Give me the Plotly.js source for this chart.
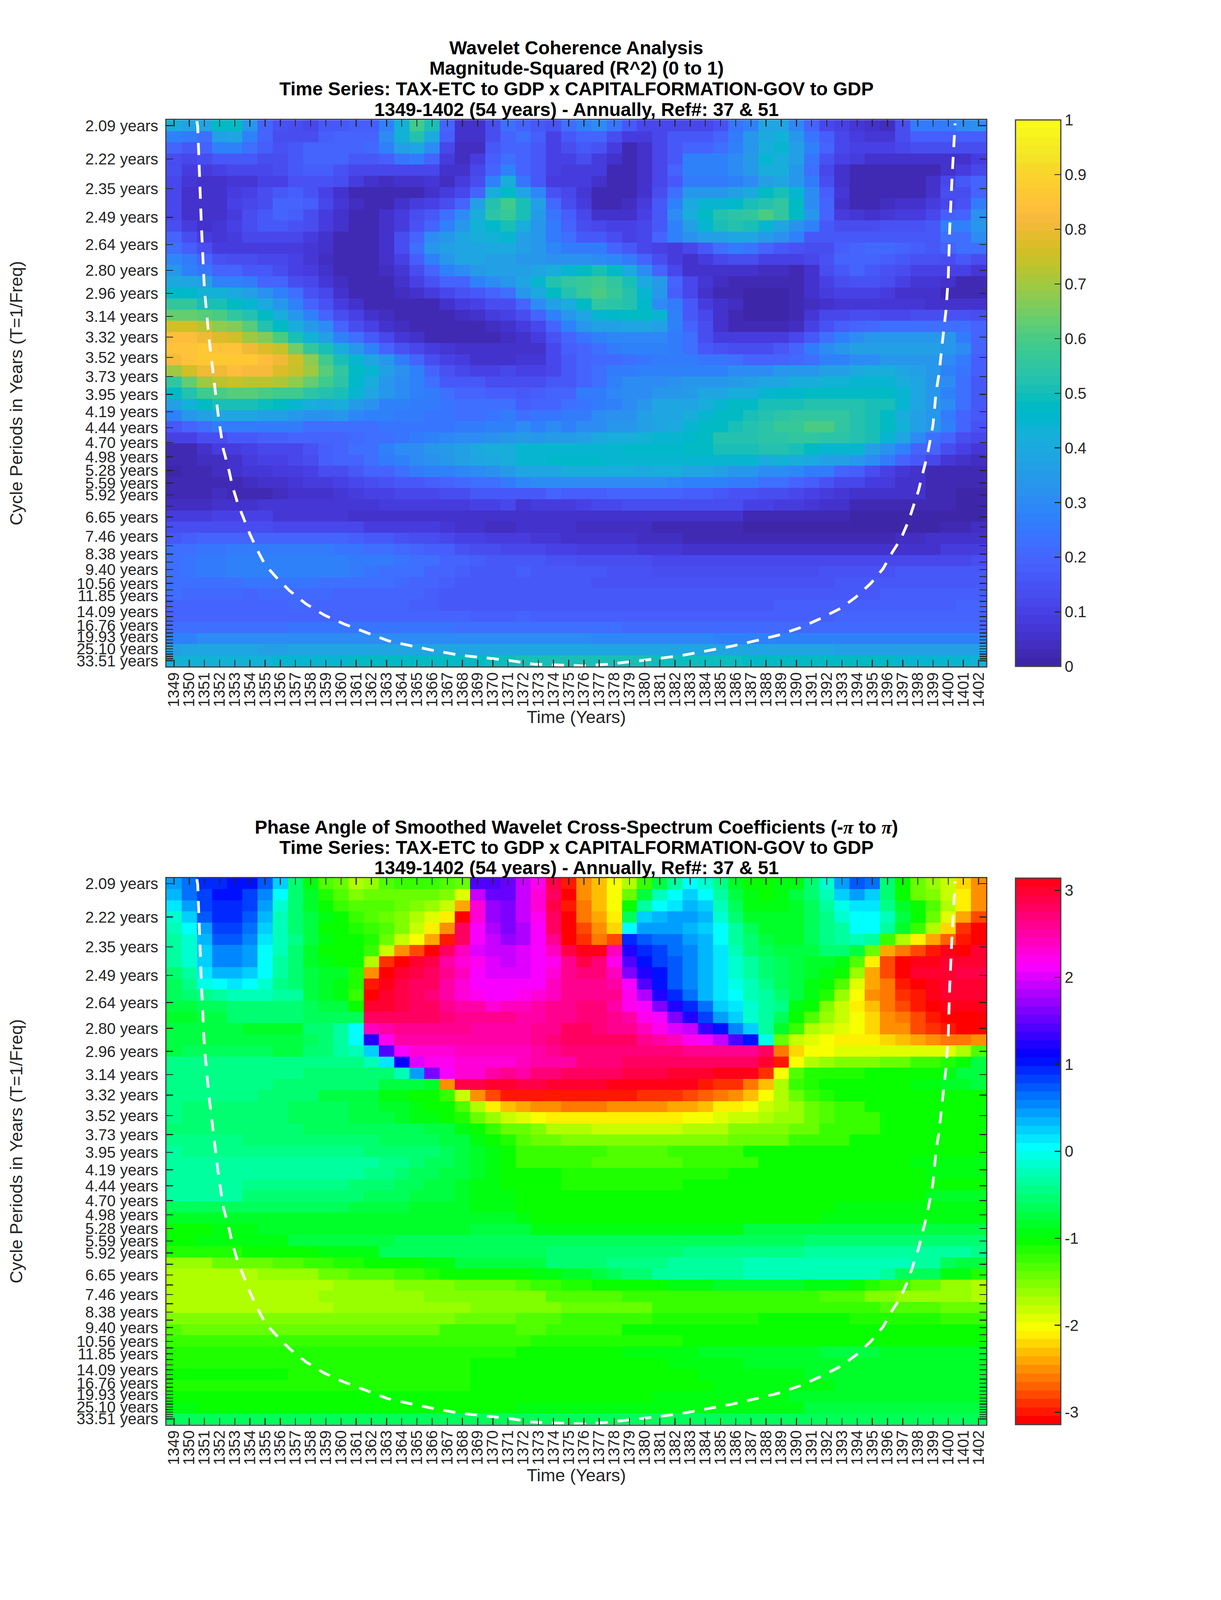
<!DOCTYPE html>
<html>
<head>
<meta charset="utf-8">
<script src="https://cdn.plot.ly/plotly-3.0.1.min.js"></script>
<style>html,body{margin:0;padding:0;background:#fff;overflow:hidden}</style>
</head>
<body>
<div id="chart"></div>
<script>
const years = [1349,1350,1351,1352,1353,1354,1355,1356,1357,1358,1359,1360,1361,1362,1363,1364,1365,1366,1367,1368,1369,1370,1371,1372,1373,1374,1375,1376,1377,1378,1379,1380,1381,1382,1383,1384,1385,1386,1387,1388,1389,1390,1391,1392,1393,1394,1395,1396,1397,1398,1399,1400,1401,1402];
const periods = [2.09,2.22,2.35,2.49,2.64,2.80,2.96,3.14,3.32,3.52,3.73,3.95,4.19,4.44,4.70,4.98,5.28,5.59,5.92,6.27,6.65,7.04,7.46,7.91,8.38,8.88,9.40,9.96,10.56,11.19,11.85,12.56,13.30,14.09,14.93,15.82,16.76,17.76,18.81,19.93,21.11,22.37,23.70,25.10,26.60,28.18,29.85,31.63,33.51];
const unlabeledPeriods = [6.27,7.04,7.91,8.88,9.96,11.19,12.56,13.30,14.93,15.82,17.76,18.81,21.11,22.37,23.70,26.60,28.18,29.85,31.63];

const coiYear = [1350.5,1350.56,1350.8,1351.0,1351.3,1351.5,1351.7,1351.95,1352.25,1352.6,1352.85,1353.2,1353.6,1354.0,1354.5,1355.0,1355.8,1356.6,1357.7,1358.9,1360.2,1361.7,1363.1,1364.6,1366.2,1367.85,1369.5,1371,1372.7,1374.4,1376,1377.6,1379.3,1380.9,1382.5,1384.1,1385.7,1387.3,1388.8,1390.2,1391.6,1392.9,1393.9,1394.9,1395.7,1396.3,1396.9,1397.4,1397.7,1398.05,1398.3,1398.6,1398.8,1399.0,1399.2,1399.4,1399.6,1399.85,1400.0,1400.1,1400.25,1400.4,1400.45];
const coiRow = [0.6,1.07,9.9,15.65,20.05,22.6,24.6,27.4,30.05,31.8,33.35,34.9,36.2,37.65,39.1,40.4,41.6,42.7,43.9,44.9,45.7,46.5,47.2,47.65,48.1,48.5,48.75,48.95,49.3,49.4,49.45,49.3,49.05,48.8,48.5,48.1,47.7,47.2,46.7,46.05,45.2,44.3,43.3,42.05,40.75,39.3,38,36.4,35.1,33.7,32.3,30.7,29.3,27.8,24.9,23.2,20.6,17.6,14.7,10.1,5.7,1.3,0.8];

const coherence = [
[.42,.38,.38,.47,.47,.33,.2,.15,.13,.12,.17,.17,.18,.18,.27,.43,.58,.5,.2,.05,.05,.14,.22, .2,.16,.15,.22,.27,.3,.24,.17,.11,.12,.12,.12,.12,.15,.24,.28,.38,.38,.29,.2,.12,.1,.07,.05,.04,.13,.25,.25,.26,.3,.32],
[.28,.25,.22,.37,.38,.27,.19,.14,.13,.14,.18,.2,.19,.19,.3,.43,.52,.4,.18,.05,.05,.14,.2, .22,.18,.1,.17,.2,.2,.13,.08,.08,.12,.17,.17,.17,.2,.26,.33,.4,.43,.33,.24,.18,.12,.09,.07,.07,.13,.18,.18,.18,.18,.18],
[.2,.17,.2,.27,.27,.22,.18,.15,.17,.19,.2,.2,.2,.21,.28,.36,.38,.3,.12,.04,.04,.17,.2, .19,.16,.1,.13,.17,.15,.09,.03,.06,.12,.17,.2,.2,.22,.27,.33,.42,.44,.37,.28,.19,.12,.1,.1,.1,.11,.13,.14,.14,.14,.13],
[.14,.11,.14,.17,.17,.16,.14,.14,.16,.2,.2,.19,.17,.16,.18,.24,.26,.2,.08,.04,.08,.18,.22, .19,.16,.1,.1,.13,.09,.05,.03,.05,.12,.17,.27,.27,.27,.3,.35,.45,.42,.36,.24,.15,.1,.08,.06,.05,.05,.05,.05,.05,.06,.08],
[.13,.09,.08,.1,.12,.12,.12,.13,.17,.18,.18,.15,.12,.12,.12,.12,.12,.12,.06,.05,.11,.2,.27, .19,.16,.1,.08,.09,.08,.03,.02,.06,.12,.2,.27,.27,.27,.3,.35,.42,.42,.33,.22,.12,.06,.03,.03,.03,.03,.03,.03,.05,.08,.12],
[.12,.07,.06,.06,.07,.07,.1,.1,.15,.15,.15,.13,.08,.05,.04,.05,.06,.07,.04,.08,.14,.27,.42, .24,.16,.09,.08,.08,.05,.02,.02,.06,.11,.17,.25,.26,.26,.28,.3,.36,.39,.34,.25,.14,.06,.02,.02,.02,.03,.03,.05,.12,.16,.2],
[.11,.06,.05,.06,.08,.1,.13,.16,.18,.15,.1,.05,.02,.02,.02,.03,.02,.06,.08,.12,.2,.42,.48, .38,.29,.15,.11,.07,.03,.02,.02,.06,.13,.23,.33,.33,.33,.36,.4,.48,.5,.44,.3,.18,.07,.02,.02,.02,.03,.03,.05,.13,.14,.2],
[.11,.05,.05,.06,.1,.11,.14,.2,.2,.18,.12,.07,.04,.02,.02,.05,.08,.1,.14,.2,.36,.52,.58, .5,.36,.21,.13,.09,.03,.03,.04,.08,.17,.27,.4,.45,.44,.46,.5,.52,.56,.47,.3,.2,.06,.03,.03,.04,.05,.06,.08,.11,.15,.26],
[.11,.05,.05,.06,.09,.13,.17,.2,.18,.14,.09,.05,.03,.02,.05,.08,.13,.16,.22,.3,.42,.54,.57, .5,.35,.24,.18,.11,.06,.06,.06,.1,.17,.3,.42,.48,.53,.54,.56,.6,.56,.48,.33,.2,.09,.07,.06,.07,.09,.09,.11,.18,.2,.32],
[.14,.09,.06,.07,.1,.14,.16,.17,.15,.13,.08,.05,.02,.02,.05,.09,.15,.2,.27,.33,.43,.46,.5, .42,.33,.25,.19,.13,.11,.1,.1,.12,.17,.27,.36,.44,.5,.52,.5,.45,.38,.32,.27,.17,.13,.14,.14,.15,.15,.15,.17,.27,.28,.34],
[.2,.13,.09,.07,.09,.11,.12,.12,.12,.09,.06,.03,.02,.02,.06,.14,.2,.3,.34,.38,.42,.43,.44, .37,.33,.26,.22,.17,.16,.13,.1,.12,.2,.27,.32,.36,.37,.38,.38,.35,.32,.27,.17,.17,.17,.17,.17,.17,.17,.17,.17,.22,.23,.3],
[.23,.18,.13,.09,.08,.09,.09,.09,.08,.07,.05,.02,.02,.02,.06,.13,.22,.33,.37,.38,.39,.4,.4, .36,.33,.29,.26,.26,.26,.2,.16,.12,.1,.09,.12,.17,.23,.25,.24,.2,.17,.15,.14,.14,.18,.2,.21,.21,.2,.18,.17,.19,.22,.22],
[.29,.25,.19,.15,.14,.13,.12,.11,.1,.07,.04,.02,.02,.02,.05,.1,.18,.28,.33,.38,.38,.37,.36, .34,.33,.32,.32,.32,.3,.29,.26,.2,.13,.08,.06,.09,.11,.13,.13,.1,.1,.1,.12,.15,.19,.2,.2,.18,.16,.15,.15,.14,.17,.14],
[.33,.28,.24,.2,.2,.17,.17,.14,.1,.08,.05,.02,.02,.02,.04,.07,.14,.2,.27,.3,.35,.36,.36, .36,.38,.42,.44,.48,.5,.48,.4,.3,.2,.12,.06,.05,.05,.05,.05,.04,.04,.03,.05,.13,.16,.19,.17,.15,.13,.1,.1,.1,.1,.07],
[.4,.38,.37,.28,.28,.26,.2,.2,.14,.11,.07,.04,.02,.02,.03,.06,.1,.15,.2,.2,.27,.3,.33, .38,.45,.52,.55,.57,.58,.55,.5,.4,.35,.2,.12,.07,.04,.02,.02,.02,.02,.03,.05,.1,.14,.15,.15,.13,.1,.07,.07,.05,.02,.02],
[.46,.46,.43,.43,.4,.37,.32,.27,.22,.15,.12,.06,.03,.02,.02,.04,.06,.09,.12,.15,.16,.2,.22, .33,.4,.47,.52,.57,.6,.57,.53,.45,.33,.18,.11,.06,.03,.02,.01,.01,.01,.02,.06,.08,.1,.1,.1,.08,.05,.05,.05,.03,.02,.02],
[.55,.55,.5,.5,.47,.44,.4,.33,.28,.2,.15,.08,.05,.03,.02,.02,.03,.03,.06,.08,.1,.13,.14, .2,.3,.36,.42,.47,.55,.54,.53,.46,.3,.26,.16,.09,.06,.04,.01,.01,.01,.03,.04,.06,.07,.07,.07,.07,.07,.07,.05,.05,.05,.05],
[.63,.63,.62,.6,.56,.52,.48,.42,.33,.28,.2,.13,.1,.06,.04,.02,.02,.02,.02,.04,.05,.08,.1, .14,.2,.28,.33,.38,.44,.46,.48,.48,.44,.28,.17,.12,.05,.02,.01,.01,.01,.03,.07,.11,.12,.13,.13,.12,.12,.13,.14,.15,.15,.13],
[.76,.76,.72,.68,.67,.62,.53,.48,.42,.35,.3,.2,.14,.1,.06,.04,.03,.02,.02,.02,.03,.04,.05, .08,.12,.2,.28,.33,.36,.37,.38,.38,.37,.27,.2,.13,.06,.03,.02,.02,.02,.04,.1,.15,.18,.2,.21,.23,.23,.23,.23,.23,.23,.2],
[.84,.84,.8,.78,.75,.7,.66,.6,.5,.43,.36,.28,.22,.17,.12,.07,.05,.03,.03,.03,.03,.03,.04, .05,.08,.15,.2,.24,.27,.29,.29,.29,.29,.26,.23,.14,.09,.08,.08,.08,.08,.11,.16,.22,.27,.3,.33,.33,.33,.33,.33,.33,.26,.2],
[.85,.85,.86,.85,.85,.81,.78,.74,.65,.56,.5,.42,.33,.28,.2,.15,.12,.09,.07,.05,.05,.05,.05, .06,.06,.11,.18,.2,.22,.25,.27,.27,.27,.26,.23,.17,.15,.14,.14,.14,.16,.2,.25,.3,.33,.36,.36,.36,.36,.36,.36,.33,.3,.2],
[.82,.85,.87,.87,.86,.86,.83,.8,.75,.68,.58,.5,.44,.38,.33,.25,.2,.14,.1,.08,.05,.05,.05, .07,.07,.12,.16,.2,.21,.21,.23,.24,.25,.25,.25,.24,.24,.22,.2,.2,.2,.21,.22,.28,.28,.31,.31,.33,.33,.33,.33,.3,.26,.18],
[.7,.76,.8,.81,.83,.82,.82,.78,.74,.7,.62,.55,.48,.44,.36,.32,.27,.2,.15,.12,.1,.1,.12, .1,.1,.12,.17,.2,.22,.25,.26,.27,.28,.28,.28,.28,.28,.3,.3,.3,.33,.33,.33,.37,.37,.4,.42,.42,.38,.36,.33,.28,.24,.18],
[.56,.63,.69,.73,.74,.73,.72,.71,.68,.64,.59,.54,.46,.42,.34,.3,.27,.22,.17,.16,.16,.14,.14, .14,.14,.17,.17,.2,.22,.28,.3,.3,.31,.32,.33,.34,.34,.35,.36,.38,.38,.41,.41,.43,.43,.44,.44,.44,.42,.38,.34,.3,.22,.17],
[.48,.53,.58,.6,.62,.62,.6,.59,.58,.54,.52,.5,.44,.39,.33,.3,.27,.26,.22,.2,.2,.18,.18, .17,.18,.19,.2,.25,.26,.29,.31,.31,.33,.33,.35,.38,.38,.41,.41,.44,.46,.46,.48,.48,.48,.48,.48,.48,.44,.38,.33,.27,.22,.16],
[.37,.43,.47,.5,.5,.5,.49,.47,.45,.41,.4,.41,.35,.32,.28,.28,.25,.25,.24,.23,.22,.22,.22, .18,.2,.2,.22,.24,.26,.28,.3,.33,.38,.38,.39,.42,.44,.48,.48,.5,.5,.5,.52,.53,.53,.52,.5,.5,.44,.38,.33,.3,.22,.16],
[.28,.33,.37,.38,.38,.38,.37,.36,.34,.32,.32,.33,.29,.28,.27,.26,.25,.24,.24,.23,.23,.24,.26, .23,.24,.24,.26,.26,.3,.32,.32,.36,.38,.39,.42,.44,.48,.48,.5,.52,.54,.56,.56,.56,.56,.53,.5,.47,.42,.36,.33,.26,.2,.16],
[.17,.2,.23,.26,.26,.26,.26,.26,.25,.23,.22,.22,.22,.23,.24,.24,.24,.24,.24,.25,.26,.27,.28, .3,.28,.3,.28,.3,.3,.33,.34,.36,.38,.4,.45,.47,.48,.5,.52,.54,.57,.57,.6,.6,.56,.53,.5,.47,.43,.37,.33,.27,.19,.15],
[.1,.1,.14,.14,.16,.17,.18,.18,.19,.2,.2,.2,.21,.22,.23,.24,.26,.27,.29,.3,.3,.32,.33, .35,.33,.35,.35,.37,.4,.42,.42,.43,.44,.45,.46,.47,.52,.52,.53,.54,.54,.55,.55,.54,.54,.52,.5,.44,.38,.3,.22,.19,.14,.11],
[.03,.03,.06,.08,.09,.1,.11,.12,.12,.15,.18,.2,.22,.23,.27,.3,.31,.33,.35,.37,.4,.41,.42, .44,.44,.44,.44,.44,.45,.45,.46,.46,.46,.46,.47,.48,.5,.5,.5,.52,.52,.5,.47,.45,.44,.44,.37,.32,.27,.2,.19,.14,.1,.07],
[.02,.03,.04,.04,.05,.09,.1,.1,.12,.14,.18,.19,.2,.23,.25,.28,.3,.32,.33,.36,.38,.4,.42, .44,.44,.46,.46,.46,.46,.45,.45,.45,.45,.45,.45,.44,.44,.44,.44,.42,.43,.42,.4,.37,.36,.33,.3,.25,.19,.16,.12,.07,.06,.04],
[.01,.02,.02,.04,.05,.07,.07,.08,.09,.1,.13,.14,.17,.2,.2,.23,.25,.28,.28,.29,.3,.32,.35, .38,.39,.39,.42,.42,.42,.42,.41,.4,.41,.41,.39,.38,.36,.34,.33,.31,.3,.29,.25,.25,.2,.18,.13,.1,.07,.05,.03,.03,.03,.03],
[.02,.02,.02,.03,.03,.04,.06,.06,.07,.08,.09,.1,.12,.14,.15,.17,.17,.18,.2,.21,.22,.23,.25, .29,.3,.3,.31,.31,.3,.3,.3,.3,.3,.29,.28,.28,.27,.26,.25,.23,.22,.2,.18,.15,.12,.12,.09,.08,.06,.05,.03,.03,.02,.02],
[.02,.02,.03,.04,.03,.03,.03,.04,.05,.05,.05,.07,.08,.1,.1,.11,.12,.12,.13,.14,.16,.17,.17, .17,.17,.19,.18,.18,.18,.2,.2,.19,.19,.19,.18,.18,.17,.15,.15,.13,.13,.11,.1,.09,.07,.06,.06,.05,.05,.05,.03,.02,.01,.01],
[.04,.04,.04,.05,.06,.06,.07,.07,.07,.07,.07,.07,.07,.07,.09,.09,.09,.09,.09,.09,.1,.1,.11, .07,.09,.09,.09,.1,.12,.12,.13,.13,.13,.13,.13,.13,.13,.13,.1,.1,.09,.09,.07,.05,.05,.03,.03,.02,.02,.02,.02,.02,.01,.01],
[.08,.08,.08,.1,.1,.1,.1,.07,.07,.07,.07,.07,.06,.06,.06,.06,.06,.06,.05,.05,.05,.05,.05, .05,.05,.05,.05,.05,.05,.05,.05,.06,.06,.06,.06,.05,.05,.05,.03,.03,.02,.02,.02,.02,.02,.01,.01,.01,.01,.01,.01,.01,.01,.01],
[.13,.14,.14,.14,.14,.14,.13,.12,.12,.12,.12,.12,.11,.09,.09,.09,.08,.08,.07,.06,.06,.04,.04, .05,.06,.06,.06,.04,.04,.04,.04,.04,.03,.03,.03,.02,.02,.02,.01,.01,.01,.01,.01,.01,.01,.01,.01,.01,.01,.01,.01,.03,.03,.04],
[.17,.18,.2,.2,.2,.2,.2,.2,.19,.19,.19,.19,.18,.17,.16,.15,.14,.14,.12,.1,.1,.08,.08, .09,.07,.07,.06,.06,.06,.05,.05,.04,.04,.04,.03,.03,.03,.03,.03,.03,.03,.03,.03,.03,.03,.03,.03,.03,.04,.04,.05,.05,.06,.06],
[.23,.23,.24,.24,.25,.25,.25,.25,.25,.25,.25,.24,.24,.23,.23,.21,.2,.18,.18,.15,.14,.13,.12, .12,.11,.1,.1,.09,.09,.08,.08,.07,.07,.07,.06,.06,.06,.06,.06,.06,.06,.06,.06,.06,.06,.06,.06,.06,.06,.06,.06,.08,.08,.09],
[.23,.24,.25,.26,.27,.28,.28,.28,.28,.28,.28,.27,.26,.26,.26,.24,.23,.22,.2,.19,.18,.17,.16, .17,.16,.15,.15,.14,.14,.13,.13,.13,.12,.12,.12,.11,.11,.11,.11,.11,.11,.11,.11,.11,.11,.11,.11,.11,.11,.12,.12,.12,.12,.13],
[.23,.24,.25,.26,.27,.27,.27,.27,.27,.27,.27,.27,.26,.24,.23,.22,.22,.2,.19,.18,.17,.17,.16, .18,.17,.17,.16,.16,.16,.15,.15,.15,.14,.14,.14,.14,.14,.14,.14,.14,.14,.14,.14,.15,.15,.15,.15,.15,.16,.16,.16,.16,.17,.17],
[.23,.23,.22,.22,.23,.24,.24,.24,.24,.24,.23,.23,.23,.23,.22,.21,.2,.19,.18,.17,.17,.16,.16, .17,.17,.16,.16,.16,.15,.15,.15,.15,.15,.15,.15,.15,.15,.15,.15,.15,.15,.15,.15,.15,.16,.17,.17,.17,.17,.17,.17,.17,.17,.17],
[.22,.21,.21,.21,.21,.2,.21,.21,.21,.21,.21,.2,.2,.2,.2,.19,.19,.18,.17,.16,.16,.16,.16, .17,.16,.16,.16,.16,.16,.16,.16,.16,.16,.16,.16,.16,.16,.16,.16,.16,.16,.16,.17,.17,.17,.17,.17,.18,.18,.18,.18,.18,.18,.18],
[.2,.2,.19,.19,.19,.2,.2,.2,.21,.2,.19,.19,.19,.19,.19,.19,.18,.18,.17,.17,.16,.16,.16, .16,.16,.16,.17,.17,.17,.17,.17,.17,.17,.17,.17,.17,.17,.17,.17,.17,.18,.18,.18,.18,.18,.18,.18,.18,.18,.18,.18,.18,.19,.19],
[.19,.19,.2,.2,.2,.2,.2,.2,.2,.2,.2,.2,.2,.2,.2,.2,.19,.19,.19,.19,.18,.18,.18, .19,.18,.18,.18,.18,.18,.18,.18,.18,.18,.18,.18,.18,.18,.18,.18,.18,.18,.18,.18,.18,.19,.19,.19,.19,.19,.19,.19,.19,.19,.19],
[.22,.22,.23,.23,.23,.23,.23,.23,.24,.24,.24,.24,.24,.24,.24,.24,.24,.24,.24,.23,.23,.23,.23, .22,.22,.22,.22,.22,.22,.22,.21,.21,.21,.21,.21,.21,.21,.21,.21,.21,.21,.21,.21,.21,.21,.21,.21,.21,.21,.21,.21,.21,.21,.21],
[.28,.28,.3,.3,.3,.3,.3,.3,.3,.3,.3,.31,.31,.31,.31,.31,.31,.31,.31,.3,.3,.31,.31, .3,.3,.3,.3,.3,.29,.29,.29,.29,.29,.29,.29,.29,.28,.28,.28,.28,.28,.28,.28,.28,.28,.28,.28,.28,.27,.27,.27,.27,.27,.27],
[.37,.38,.38,.38,.38,.38,.37,.37,.38,.38,.38,.38,.38,.39,.39,.39,.39,.39,.39,.39,.39,.39,.39, .39,.39,.39,.39,.39,.39,.38,.38,.38,.38,.38,.38,.38,.38,.38,.38,.38,.38,.38,.38,.38,.37,.37,.37,.37,.37,.37,.37,.37,.37,.37],
[.43,.43,.43,.43,.43,.43,.43,.45,.45,.45,.45,.45,.47,.47,.47,.47,.47,.47,.47,.48,.48,.49,.49, .5,.5,.5,.5,.5,.5,.5,.5,.5,.49,.49,.49,.49,.49,.49,.48,.48,.48,.48,.48,.48,.48,.47,.47,.47,.45,.45,.45,.44,.44,.43]
];

const phase = [
[.42,.65,.91,.95,1.05,1.03,.7,.25,-.52,-.95,-1.31,-1.45,-1.75,-1.6,-1.35,-1.25,-1.2,-1.2,-1.3,-1.4,1.43,1.43,1.55, 1.95,2.2,2.9,-3.0,-2.55,-2.3,-2.0,-1.75,-1.2,-.7,-.3,0,-.1,-.45,-.85,-1.0,-1.05,-.95,-.9,-.55,-.1,.42,.75,.65,-.55,-1.0,-1.4,-1.6,-1.85,-2.2,-2.5],
[.3,.6,.85,1.0,1.0,.85,.5,0,-.5,-.85,-1.1,-1.35,-1.5,-1.45,-1.4,-1.4,-1.4,-1.45,-1.55,-1.9,1.9,1.57,1.5, 1.9,2.3,2.8,-3.05,-2.55,-2.3,-2.0,-1.4,-.75,-.25,0,.2,.05,-.35,-.7,-.95,-1.0,-.9,-.75,-.55,-.25,.2,.45,.25,-.55,-1.0,-1.4,-1.5,-1.85,-2.1,-2.5],
[.1,.45,.85,.95,.95,.8,.4,-.1,-.5,-.85,-1.05,-1.2,-1.3,-1.3,-1.35,-1.4,-1.5,-1.6,-1.8,-2.45,2.3,1.7,1.6, 1.9,2.3,2.85,-3.0,-2.6,-2.3,-2.0,-1.05,-.35,0,.15,.3,.2,-.2,-.6,-.9,-.95,-.95,-.8,-.6,-.35,-.05,.15,.15,-.45,-.8,-1.05,-1.35,-1.75,-2.15,-2.5],
[-.1,.2,.7,.9,.9,.75,.35,-.25,-.5,-.75,-.9,-1.05,-1.2,-1.3,-1.4,-1.5,-1.7,-1.9,-2.15,-3.05,2.3,1.75,1.6, 1.9,2.25,2.75,-3.05,-2.6,-2.45,-2.1,-.65,.2,.3,.4,.4,.3,-.1,-.5,-.8,-.85,-.85,-.8,-.6,-.45,-.15,0,0,-.25,-.7,-1.05,-1.4,-1.9,-2.4,-2.75],
[-.25,0,.45,.8,.8,.6,.2,-.25,-.55,-.75,-1.0,-1.0,-1.1,-1.25,-1.35,-1.55,-1.8,-2.1,-2.55,2.75,2.1,1.85,1.6, 1.85,2.1,2.75,-3.14,-2.8,-2.5,-2.25,0,.45,.45,.45,.35,.2,0,-.3,-.65,-.8,-.85,-.8,-.6,-.4,-.35,0,0,-.35,-.85,-1.25,-1.75,-2.25,-2.85,-3.05],
[-.3,-.1,.35,.7,.7,.55,.1,-.25,-.45,-.75,-.9,-1.0,-1.05,-1.1,-1.45,-1.8,-2.05,-2.45,-3.0,2.75,2.1,1.9,1.7, 1.85,2.1,2.6,-3.05,-2.85,-2.65,-2.8,.95,.75,.65,.6,.45,.3,0,-.3,-.55,-.7,-.8,-.8,-.6,-.45,-.35,-.2,-.3,-1.2,-1.7,-2.1,-2.45,-2.7,-3.0,-3.14],
[-.3,-.15,.25,.55,.55,.45,.05,-.25,-.5,-.8,-1.0,-1.0,-1.05,-1.25,-1.85,-2.5,-2.8,-3.14,2.8,2.4,2.0,1.9,1.9, 2.0,2.15,2.45,2.9,3.05,3.14,2.4,1.25,.95,.8,.6,.5,.35,.1,-.25,-.5,-.65,-.75,-.75,-.7,-.55,-.5,-.75,-1.4,-2.45,-2.6,-2.8,-2.95,3.14,-3.14,3.0],
[-.35,-.15,.2,.5,.5,.4,0,-.3,-.55,-.8,-.95,-1.0,-1.05,-1.7,-2.85,-3.1,3.0,2.85,2.5,2.35,2.2,2.0,1.95, 2.0,2.1,2.25,2.6,2.85,2.7,2.2,1.45,1.05,.85,.7,.5,.3,.1,-.15,-.35,-.5,-.6,-.7,-.8,-.85,-.9,-1.3,-2.15,-2.8,-3.05,3.14,3.05,3.0,3.0,2.95],
[-.55,-.3,.1,.35,.35,.2,0,-.35,-.55,-.7,-.8,-.85,-1.1,-2.55,-3.1,3.0,2.85,2.8,2.65,2.45,2.1,2.05,2.05, 2.05,2.1,2.35,2.6,2.7,2.7,2.4,1.65,1.25,1.05,.75,.5,.3,.1,-.1,-.3,-.5,-.6,-.7,-.8,-.9,-1.05,-1.65,-2.4,-2.8,-3.05,3.0,3.0,2.95,2.9,2.9],
[-.6,-.45,-.05,0,.1,0,-.1,-.4,-.55,-.75,-.85,-.9,-1.15,-2.95,3.05,2.9,2.8,2.75,2.55,2.3,2.1,2.1,2.1, 2.1,2.15,2.4,2.6,2.65,2.65,2.5,2.15,1.4,1.05,.75,.5,.3,.1,-.05,-.25,-.4,-.6,-.75,-.9,-1.05,-1.35,-1.95,-2.45,-2.6,-2.95,-3.14,3.05,2.95,2.95,3.0],
[-.65,-.55,-.45,-.3,-.25,-.25,-.25,-.3,-.35,-.7,-.8,-.9,-1.2,-3.14,3.0,2.85,2.75,2.7,2.5,2.3,2.2,2.15,2.15, 2.25,2.3,2.4,2.6,2.65,2.65,2.6,2.2,1.8,1.25,.9,.65,.35,.15,0,-.2,-.35,-.5,-.7,-.9,-1.15,-1.6,-2.0,-2.5,-2.6,-2.85,-3.0,3.14,3.0,3.0,3.0],
[-.75,-.7,-.65,-.6,-.5,-.5,-.5,-.5,-.55,-.65,-.7,-.75,-1.05,3.0,2.95,2.9,2.8,2.75,2.65,2.55,2.5,2.35,2.45, 2.45,2.5,2.6,2.65,2.7,2.7,2.55,2.25,2.1,1.65,1.2,.9,.65,.25,.1,-.15,-.3,-.45,-.9,-1.0,-1.5,-1.85,-2.15,-2.3,-2.6,-2.75,-3.0,-3.05,3.14,3.05,3.05],
[-.8,-.8,-.75,-.75,-.55,-.55,-.55,-.55,-.55,-.6,-.6,-.6,-.6,2.8,2.8,2.8,2.75,2.75,2.7,2.6,2.6,2.6,2.6, 2.5,2.55,2.65,2.65,2.7,2.7,2.65,2.5,2.25,2.1,1.6,1.2,.85,.45,.25,-.1,-.3,-.6,-1.05,-1.35,-1.65,-1.85,-2.05,-2.25,-2.5,-2.65,-2.75,-2.95,-3.05,-3.14,-3.14],
[-.75,-.75,-.75,-.7,-.75,-.8,-.8,-.8,-.8,-.55,-.55,-.3,.05,2.4,2.55,2.65,2.65,2.65,2.65,2.6,2.55,2.55,2.55, 2.55,2.6,2.65,2.75,2.75,2.7,2.65,2.6,2.4,2.2,2.05,1.9,1.35,1.0,.5,.2,-.3,-.85,-1.2,-1.7,-1.85,-1.95,-2.05,-2.2,-2.5,-2.55,-2.75,-2.85,-3.0,-3.05,-3.05],
[-.75,-.7,-.7,-.7,-.7,-.7,-.7,-.7,-.7,-.6,-.5,-.3,0,1.2,2.25,2.5,2.5,2.5,2.5,2.5,2.5,2.5,2.5, 2.55,2.6,2.7,2.75,2.75,2.75,2.75,2.75,2.6,2.5,2.45,2.2,2.15,1.95,1.45,1.05,-.05,-1.4,-1.8,-1.95,-2.05,-2.1,-2.1,-2.1,-2.2,-2.3,-2.45,-2.5,-2.6,-2.6,-2.55],
[-.75,-.65,-.65,-.65,-.65,-.65,-.65,-.7,-.7,-.5,-.5,-.35,-.2,.2,1.4,2.15,2.3,2.35,2.35,2.4,2.4,2.4,2.4, 2.45,2.55,2.6,2.7,2.7,2.7,2.7,2.7,2.7,2.7,2.7,2.65,2.65,2.6,2.6,2.6,2.8,-2.65,-2.2,-2.05,-2.0,-1.9,-1.9,-1.9,-1.9,-1.9,-1.9,-1.9,-1.95,-1.7,-1.35],
[-.42,-.42,-.42,-.42,-.42,-.42,-.42,-.42,-.42,-.42,-.42,-.42,-.42,-.2,.1,1.15,2.0,2.2,2.25,2.3,2.3,2.3,2.3, 2.4,2.5,2.5,2.5,2.7,2.7,2.7,2.8,2.8,2.8,2.8,2.8,2.8,2.8,2.8,2.8,3.0,-2.95,-2.0,-1.7,-1.6,-1.48,-1.48,-1.48,-1.42,-1.42,-1.27,-1.27,-1.1,-1.0,-.7],
[-.42,-.42,-.42,-.42,-.42,-.42,-.42,-.42,-.42,-.55,-.55,-.55,-.55,-.55,-.55,-.2,.4,1.6,2.1,2.3,2.35,2.5,2.6, 2.5,2.7,2.7,2.8,2.8,2.8,2.8,2.9,2.9,2.9,3.0,3.0,3.0,3.05,3.05,3.14,-2.9,-2.0,-1.35,-1.15,-1.15,-1.15,-1.15,-1.05,-1.05,-1.05,-1.05,-1.05,-.9,-.7,-.7],
[-.45,-.45,-.45,-.45,-.45,-.45,-.45,-.55,-.55,-.55,-.55,-.55,-.55,-.55,-.75,-.75,-.75,-.85,-2.55,2.85,2.9,2.95,3.0, 2.9,2.9,3.0,3.0,3.0,3.0,3.05,3.05,3.05,3.14,3.14,3.14,-3.0,-2.9,-2.85,-2.65,-2.3,-1.7,-1.2,-1.1,-1.05,-1.05,-1.05,-1.05,-1.05,-1.05,-.95,-.95,-.85,-.85,-.7],
[-.45,-.45,-.45,-.45,-.45,-.45,-.55,-.55,-.55,-.55,-.75,-.75,-.75,-.75,-.9,-.95,-1.0,-1.05,-1.25,-1.85,-2.5,-2.8,-3.0, -3.0,-3.0,-3.0,-3.0,-3.0,-3.0,-3.0,-3.0,-2.9,-2.9,-2.9,-2.8,-2.7,-2.6,-2.5,-2.3,-2.0,-1.7,-1.45,-1.2,-1.1,-1.05,-1.05,-1.05,-1.05,-1.05,-1.05,-1.05,-1.05,-1.05,-1.05],
[-.45,-.55,-.55,-.55,-.55,-.55,-.55,-.55,-.65,-.65,-.65,-.65,-.7,-.7,-.85,-.85,-.95,-1.0,-1.05,-1.35,-1.7,-2.09,-2.35, -2.45,-2.5,-2.5,-2.6,-2.6,-2.6,-2.5,-2.5,-2.5,-2.5,-2.4,-2.4,-2.3,-2.15,-2.09,-2.0,-1.8,-1.7,-1.58,-1.42,-1.3,-1.2,-1.2,-1.05,-1.05,-1.05,-1.05,-1.05,-1.05,-1.05,-1.05],
[-.45,-.55,-.55,-.55,-.55,-.55,-.55,-.55,-.65,-.65,-.65,-.65,-.75,-.75,-.75,-.85,-.9,-.95,-1.0,-1.15,-1.45,-1.6,-1.78, -1.9,-2.0,-2.09,-2.09,-2.09,-2.09,-2.09,-2.09,-2.09,-2.09,-2.09,-2.0,-2.0,-1.9,-1.8,-1.8,-1.72,-1.58,-1.58,-1.45,-1.35,-1.2,-1.2,-1.2,-1.05,-1.05,-1.05,-1.05,-1.05,-1.05,-1.05],
[-.5,-.5,-.5,-.5,-.5,-.5,-.5,-.5,-.5,-.6,-.6,-.6,-.6,-.6,-.6,-.6,-.6,-.7,-.7,-.95,-1.05,-1.2,-1.4, -1.45,-1.5,-1.7,-1.7,-1.7,-1.78,-1.78,-1.78,-1.78,-1.78,-1.78,-1.7,-1.7,-1.7,-1.55,-1.55,-1.55,-1.55,-1.38,-1.38,-1.2,-1.2,-1.2,-1.2,-1.07,-1.07,-1.07,-1.07,-1.07,-1.07,-1.07],
[-.45,-.45,-.45,-.45,-.45,-.5,-.5,-.5,-.5,-.5,-.5,-.5,-.5,-.5,-.65,-.65,-.65,-.65,-.75,-.75,-.9,-1.0,-1.15, -1.3,-1.42,-1.42,-1.5,-1.5,-1.5,-1.5,-1.5,-1.5,-1.5,-1.5,-1.5,-1.5,-1.5,-1.4,-1.4,-1.4,-1.4,-1.27,-1.27,-1.27,-1.27,-1.07,-1.07,-1.07,-1.07,-1.07,-1.07,-1.07,-1.07,-1.07],
[-.35,-.42,-.42,-.42,-.42,-.42,-.42,-.42,-.42,-.42,-.42,-.42,-.42,-.55,-.55,-.55,-.55,-.55,-.65,-.75,-.85,-.95,-1.05, -1.25,-1.25,-1.25,-1.25,-1.25,-1.25,-1.35,-1.35,-1.35,-1.35,-1.25,-1.25,-1.25,-1.25,-1.25,-1.07,-1.07,-1.07,-1.07,-1.07,-1.07,-1.07,-1.07,-1.07,-1.07,-1.07,-1.07,-1.07,-1.07,-1.07,-1.07],
[-.3,-.3,-.3,-.3,-.3,-.35,-.35,-.35,-.35,-.35,-.35,-.35,-.35,-.35,-.45,-.45,-.5,-.6,-.65,-.75,-.85,-.95,-1.0, -1.2,-1.2,-1.22,-1.22,-1.22,-1.3,-1.3,-1.3,-1.3,-1.3,-1.3,-1.2,-1.2,-1.2,-1.2,-1.2,-1.05,-1.05,-1.05,-1.05,-1.05,-1.05,-1.05,-1.05,-1.05,-1.05,-.9,-.9,-.9,-.9,-.9],
[-.32,-.32,-.32,-.32,-.32,-.32,-.32,-.38,-.38,-.38,-.38,-.38,-.38,-.45,-.48,-.55,-.6,-.65,-.7,-.75,-.85,-.95,-1.0, -1.07,-1.07,-1.07,-1.15,-1.15,-1.15,-1.15,-1.15,-1.15,-1.15,-1.15,-1.15,-1.15,-1.15,-1.05,-1.05,-1.05,-1.05,-1.05,-1.05,-1.05,-1.05,-1.05,-1.05,-1.05,-1.05,-1.05,-.95,-.95,-.95,-.95],
[-.32,-.32,-.32,-.32,-.32,-.4,-.4,-.4,-.4,-.4,-.4,-.45,-.5,-.52,-.58,-.6,-.65,-.7,-.75,-.8,-.9,-.95,-1.0, -1.05,-1.05,-1.05,-1.1,-1.1,-1.1,-1.1,-1.1,-1.1,-1.1,-1.1,-1.03,-1.03,-1.03,-1.03,-1.03,-1.03,-1.03,-1.03,-1.03,-1.03,-1.03,-1.03,-1.03,-1.03,-1.03,-1.03,-1.03,-1.03,-1.03,-1.03],
[-.3,-.38,-.38,-.38,-.38,-.5,-.5,-.5,-.5,-.55,-.55,-.55,-.55,-.6,-.65,-.68,-.75,-.75,-.75,-.8,-.9,-.95,-.95, -1.03,-1.03,-1.03,-1.03,-1.03,-1.03,-1.03,-1.03,-1.03,-1.03,-1.03,-1.03,-1.03,-1.03,-1.03,-1.03,-1.03,-1.03,-1.03,-1.03,-1.03,-1.0,-1.0,-1.0,-1.0,-1.0,-1.0,-.85,-.85,-.85,-.85],
[-.6,-.6,-.6,-.6,-.6,-.6,-.6,-.65,-.65,-.65,-.65,-.65,-.75,-.75,-.75,-.75,-.8,-.8,-.8,-.8,-.95,-.95,-.95, -1.0,-1.0,-1.0,-1.0,-1.0,-1.0,-1.0,-1.0,-1.0,-1.0,-1.0,-1.0,-1.0,-1.0,-1.0,-1.0,-1.0,-1.0,-1.0,-1.0,-1.0,-.95,-.95,-.95,-.95,-.95,-.95,-.95,-.95,-.95,-.95],
[-.85,-.85,-.85,-.8,-.8,-.8,-.8,-.8,-.8,-.8,-.8,-.8,-.8,-.8,-.8,-.8,-.8,-.8,-.8,-.8,-.8,-.85,-.85, -.9,-1.0,-1.0,-1.0,-1.0,-1.0,-1.0,-1.0,-1.0,-1.0,-1.0,-1.0,-1.0,-1.0,-1.0,-1.0,-1.0,-1.0,-1.0,-1.0,-.9,-.9,-.9,-.9,-.9,-.9,-.9,-.9,-.9,-.9,-.9],
[-1.05,-1.05,-1.05,-.9,-.9,-.9,-.8,-.8,-.8,-.8,-.8,-.8,-.8,-.8,-.8,-.8,-.8,-.8,-.8,-.8,-.75,-.75,-.72, -.75,-.92,-.92,-.92,-.92,-.92,-.92,-.92,-.92,-.92,-.92,-.92,-.92,-.92,-.92,-.78,-.78,-.78,-.78,-.78,-.78,-.78,-.78,-.78,-.78,-.78,-.78,-.78,-.78,-.78,-.78],
[-1.0,-1.0,-.95,-.95,-.95,-.9,-.9,-.9,-.75,-.75,-.75,-.75,-.75,-.75,-.75,-.65,-.65,-.65,-.65,-.65,-.65,-.65,-.65, -.65,-.65,-.65,-.65,-.65,-.65,-.65,-.65,-.65,-.65,-.65,-.65,-.65,-.65,-.65,-.65,-.65,-.65,-.65,-.52,-.52,-.52,-.52,-.52,-.52,-.52,-.52,-.52,-.52,-.58,-.58],
[-1.15,-1.15,-1.15,-1.15,-1.15,-1.05,-1.05,-1.05,-1.05,-1.05,-.9,-.9,-.9,-.9,-.65,-.65,-.65,-.65,-.65,-.65,-.65,-.65,-.65, -.65,-.65,-.5,-.5,-.5,-.5,-.5,-.5,-.5,-.5,-.5,-.42,-.42,-.42,-.42,-.42,-.42,-.42,-.42,-.33,-.33,-.33,-.33,-.33,-.33,-.33,-.33,-.33,-.33,-.33,-.42],
[-1.6,-1.6,-1.6,-1.4,-1.4,-1.4,-1.4,-1.3,-1.3,-1.2,-1.2,-1.1,-1.1,-1.0,-1.0,-1.0,-1.0,-.9,-.9,-.7,-.7,-.7,-.7, -.7,-.7,-.55,-.55,-.55,-.55,-.42,-.42,-.42,-.42,-.33,-.33,-.33,-.33,-.33,-.26,-.26,-.26,-.26,-.26,-.26,-.26,-.26,-.26,-.26,-.26,-.38,-.38,-.6,-.7,-.7],
[-1.72,-1.72,-1.72,-1.72,-1.72,-1.72,-1.6,-1.6,-1.6,-1.6,-1.45,-1.45,-1.35,-1.35,-1.35,-1.2,-1.2,-1.1,-1.05,-1.05,-1.0,-1.0,-1.0, -1.0,-.9,-.9,-.8,-.8,-.7,-.66,-.52,-.52,-.38,-.38,-.38,-.3,-.3,-.3,-.26,-.26,-.26,-.26,-.26,-.26,-.26,-.26,-.26,-.38,-.6,-.6,-.6,-.9,-.9,-1.1],
[-1.72,-1.72,-1.72,-1.72,-1.72,-1.72,-1.72,-1.72,-1.72,-1.72,-1.72,-1.6,-1.6,-1.6,-1.6,-1.52,-1.52,-1.52,-1.52,-1.45,-1.45,-1.4,-1.4, -1.35,-1.2,-1.2,-1.1,-1.1,-1.03,-1.03,-1.03,-1.03,-1.03,-.92,-.92,-.92,-.8,-.8,-.8,-.8,-.8,-.8,-.92,-.92,-.92,-1.03,-1.1,-1.25,-1.25,-1.42,-1.42,-1.65,-1.65,-1.7],
[-1.72,-1.72,-1.72,-1.72,-1.72,-1.72,-1.72,-1.72,-1.72,-1.72,-1.6,-1.6,-1.6,-1.6,-1.6,-1.6,-1.6,-1.55,-1.55,-1.55,-1.55,-1.55,-1.5, -1.5,-1.5,-1.35,-1.35,-1.35,-1.35,-1.35,-1.27,-1.27,-1.27,-1.27,-1.27,-1.27,-1.27,-1.27,-1.27,-1.27,-1.27,-1.27,-1.27,-1.37,-1.37,-1.37,-1.5,-1.5,-1.6,-1.6,-1.6,-1.6,-1.6,-1.75],
[-1.68,-1.68,-1.68,-1.68,-1.68,-1.68,-1.68,-1.68,-1.68,-1.68,-1.68,-1.58,-1.58,-1.58,-1.58,-1.58,-1.58,-1.58,-1.58,-1.58,-1.5,-1.5,-1.5, -1.5,-1.5,-1.5,-1.42,-1.42,-1.42,-1.42,-1.42,-1.42,-1.27,-1.27,-1.27,-1.27,-1.27,-1.27,-1.27,-1.27,-1.27,-1.27,-1.27,-1.27,-1.27,-1.27,-1.27,-1.35,-1.35,-1.35,-1.35,-1.45,-1.45,-1.45],
[-1.48,-1.48,-1.48,-1.48,-1.48,-1.48,-1.48,-1.48,-1.48,-1.48,-1.48,-1.48,-1.48,-1.48,-1.48,-1.48,-1.48,-1.48,-1.48,-1.42,-1.42,-1.42,-1.42, -1.35,-1.35,-1.35,-1.27,-1.27,-1.27,-1.27,-1.27,-1.27,-1.12,-1.12,-1.12,-1.12,-1.12,-1.12,-1.12,-1.07,-1.07,-1.07,-1.07,-1.07,-1.07,-1.12,-1.12,-1.12,-1.12,-1.12,-1.12,-1.27,-1.27,-1.27],
[-1.35,-1.42,-1.42,-1.42,-1.42,-1.42,-1.42,-1.42,-1.42,-1.42,-1.42,-1.42,-1.42,-1.42,-1.42,-1.42,-1.42,-1.42,-1.27,-1.27,-1.27,-1.27,-1.27, -1.35,-1.35,-1.2,-1.2,-1.2,-1.2,-1.2,-1.07,-1.07,-1.07,-1.07,-1.07,-1.07,-1.07,-1.07,-1.07,-1.07,-1.07,-1.07,-1.07,-1.07,-1.07,-1.07,-1.07,-1.07,-1.07,-1.07,-1.07,-1.07,-1.07,-1.07],
[-1.2,-1.2,-1.2,-1.2,-1.2,-1.2,-1.27,-1.27,-1.27,-1.27,-1.27,-1.27,-1.27,-1.27,-1.27,-1.27,-1.2,-1.2,-1.2,-1.2,-1.2,-1.2,-1.2, -1.2,-1.12,-1.12,-1.12,-1.12,-1.12,-1.12,-1.12,-1.12,-1.12,-1.12,-1.0,-1.0,-1.0,-1.0,-1.0,-1.0,-1.0,-1.0,-1.0,-1.0,-1.0,-1.0,-1.0,-1.0,-1.0,-1.0,-1.0,-1.0,-1.0,-1.07],
[-1.12,-1.12,-1.12,-1.12,-1.12,-1.12,-1.12,-1.12,-1.15,-1.15,-1.15,-1.15,-1.15,-1.15,-1.15,-1.15,-1.15,-1.08,-1.08,-1.08,-1.08,-1.08,-1.08, -1.07,-1.07,-1.07,-1.07,-1.07,-1.07,-1.07,-.95,-.95,-.95,-.95,-.95,-.88,-.88,-.88,-.88,-.88,-.88,-.88,-.88,-.75,-.75,-.75,-.75,-.82,-.82,-.82,-.82,-.82,-.82,-.82],
[-1.1,-1.1,-1.1,-1.1,-1.1,-1.1,-1.1,-1.12,-1.12,-1.12,-1.12,-1.12,-1.12,-1.12,-1.12,-1.12,-1.12,-1.12,-1.12,-1.12,-1.05,-1.05,-1.05, -1.05,-1.05,-1.05,-1.05,-1.05,-1.05,-1.05,-1.05,-1.05,-1.05,-.95,-.95,-.95,-.95,-.95,-.85,-.85,-.85,-.85,-.85,-.85,-.85,-.85,-.85,-.85,-.85,-.85,-.85,-.85,-.85,-.85],
[-1.07,-1.07,-1.07,-1.07,-1.07,-1.07,-1.07,-1.07,-1.12,-1.12,-1.12,-1.12,-1.12,-1.12,-1.12,-1.12,-1.12,-1.12,-1.12,-1.12,-1.07,-1.07,-1.07, -1.05,-1.05,-1.05,-1.05,-1.05,-1.05,-1.05,-1.05,-1.05,-1.05,-1.05,-1.05,-.97,-.97,-.97,-.97,-.97,-.97,-.97,-.82,-.82,-.82,-.82,-.82,-.82,-.82,-.82,-.82,-.82,-.82,-.82],
[-1.08,-1.08,-1.08,-1.1,-1.1,-1.1,-1.1,-1.1,-1.1,-1.1,-1.1,-1.1,-1.12,-1.12,-1.12,-1.12,-1.12,-1.12,-1.12,-1.12,-1.07,-1.07,-1.07, -1.05,-1.05,-1.05,-1.05,-1.05,-1.05,-1.05,-1.05,-1.05,-1.05,-1.05,-1.05,-1.05,-.95,-.95,-.95,-.95,-.95,-.95,-.95,-.95,-.82,-.82,-.82,-.82,-.82,-.82,-.82,-.82,-.82,-.82],
[-1.05,-1.05,-1.05,-1.05,-1.05,-1.05,-1.05,-1.05,-1.05,-1.03,-1.03,-1.03,-1.03,-1.03,-1.03,-1.03,-1.03,-1.03,-1.03,-1.03,-1.03,-1.03,-1.03, -1.0,-1.0,-1.0,-1.0,-1.0,-1.0,-1.0,-1.0,-1.0,-.92,-.92,-.92,-.92,-.92,-.92,-.92,-.92,-.92,-.82,-.82,-.82,-.82,-.82,-.82,-.82,-.82,-.82,-.82,-.82,-.82,-.82],
[-.92,-.92,-1.0,-1.0,-1.0,-1.0,-1.0,-1.0,-1.0,-1.0,-1.0,-1.0,-1.0,-1.0,-1.0,-1.0,-1.0,-1.0,-1.0,-1.0,-1.0,-1.0,-1.0, -.95,-.95,-.95,-.95,-.95,-.95,-.95,-.95,-.9,-.9,-.9,-.9,-.9,-.9,-.9,-.9,-.9,-.9,-.9,-.78,-.78,-.78,-.78,-.78,-.78,-.78,-.78,-.78,-.78,-.78,-.78],
[-.65,-.65,-.65,-.65,-.65,-.65,-.65,-.65,-.65,-.65,-.68,-.68,-.68,-.68,-.68,-.68,-.68,-.68,-.68,-.68,-.68,-.68,-.68, -.68,-.68,-.68,-.68,-.68,-.68,-.68,-.68,-.68,-.68,-.68,-.68,-.68,-.6,-.6,-.6,-.6,-.6,-.6,-.6,-.6,-.6,-.6,-.6,-.6,-.6,-.6,-.6,-.6,-.6,-.6]
];

const xAxisTitle = 'Time (Years)';
const yAxisTitle = 'Cycle Periods in Years (T=1/Freq)';
const title1 = ['Wavelet Coherence Analysis','Magnitude-Squared (R^2) (0 to 1)','Time Series: TAX-ETC to GDP x CAPITALFORMATION-GOV to GDP','1349-1402 (54 years) - Annually, Ref#: 37 &amp; 51'];
const piGlyph = '<span style="font-family:\'Liberation Serif\'"><i>\u03c0</i></span>';
const title2 = ['Phase Angle of Smoothed Wavelet Cross-Spectrum Coefficients (-'+piGlyph+' to '+piGlyph+')','Time Series: TAX-ETC to GDP x CAPITALFORMATION-GOV to GDP','1349-1402 (54 years) - Annually, Ref#: 37 &amp; 51'];

const parula = [[.2422,.1504,.6603],[.2504,.165,.7076],[.2578,.1818,.7511],[.2647,.1978,.7952],[.2706,.2147,.8364],[.2751,.2342,.871],[.2783,.2559,.8991],[.2803,.2782,.9221],[.2813,.3006,.9414],[.281,.3228,.9579],[.2795,.3447,.9717],[.276,.3667,.9829],[.2699,.3892,.9906],[.2602,.4123,.9952],[.244,.4358,.9988],[.2206,.4603,.9973],[.1963,.4847,.9892],[.1834,.5074,.9798],[.1786,.5289,.9682],[.1764,.5499,.952],[.1687,.5703,.9359],[.154,.5902,.9218],[.146,.6091,.9079],[.138,.6276,.8973],[.1248,.6459,.8883],[.1113,.6635,.8763],[.0952,.6798,.8598],[.0689,.6948,.8394],[.0297,.7082,.8163],[.0036,.7203,.7917],[.0067,.7312,.766],[.0433,.7411,.7394],[.0964,.75,.712],[.1408,.7584,.6842],[.1717,.767,.6554],[.1938,.7758,.6251],[.2161,.7843,.5923],[.247,.7918,.5567],[.2906,.7973,.5188],[.3406,.8008,.4789],[.3909,.8029,.4354],[.4456,.8024,.3909],[.5044,.7993,.348],[.5616,.7942,.3045],[.6174,.7876,.2612],[.672,.7793,.2227],[.7242,.7698,.191],[.7738,.7598,.1646],[.8203,.7498,.1535],[.8634,.7406,.1596],[.9035,.733,.1774],[.9393,.7288,.21],[.9728,.7298,.2394],[.9956,.7434,.2371],[.997,.7659,.2199],[.9952,.7861,.1991],[.9892,.8086,.1827],[.9786,.83,.174],[.9676,.8545,.16],[.961,.889,.1537],[.9597,.9135,.1423],[.9628,.9373,.1265],[.9691,.9606,.1064],[.9769,.9839,.0805]];

// The whole figure must fit in the window that actually opens: x keeps the reference's pixels,
// y keeps the reference's proportions of the window height, and text shrinks with it.
const W = 3125, REF_H = 6252;
const H = Math.min(window.innerHeight || REF_H, REF_H);
const sy = H / REF_H;
const fs = Math.min(1, sy * 1.08);
document.getElementById('chart').style.cssText = `width:${W}px;height:${H}px`;
const FONT = "'Liberation Sans', Arial, sans-serif";
const INK = '#262626';
const axL = 426, axR = 2524, ax1T = 469*sy, ax1B = 2604*sy, ax2T = 3431*sy, ax2B = 5566*sy;
const cbL = 2599, cbW = 116;
const tickSize = Math.round(57*fs), labelSize = Math.round(64*fs), titleSize = Math.round(68*fs), tickLen = Math.round(21*Math.max(sy,.8));

function steps(colors){
  const out = [];
  colors.forEach((c,i)=>{ out.push([i/colors.length,c]); out.push([(i+1)/colors.length,c]); });
  return out;
}
const parulaScale = steps(parula.map(c=>`rgb(${Math.round(c[0]*255)},${Math.round(c[1]*255)},${Math.round(c[2]*255)})`));
const hsvColors = []; for(let i=0;i<64;i++) hsvColors.push(`hsl(${i/64*360},100%,50%)`);
const hsvScale = steps(hsvColors);

const rows = periods.map((p,i)=>i+1);
const f0 = 1/periods[0], fN = 1/periods[periods.length-1];
const yTicks = periods.map(p=>1+(rows.length-1)*(f0-1/p)/(f0-fN));
const yLabels = periods.map(p=>unlabeledPeriods.includes(p)?'':p.toFixed(2)+' years');

function cbar(top, extra){
  return Object.assign({
    x:cbL/W, xref:'paper', xanchor:'left', y:1-top/H, yref:'paper', yanchor:'top',
    lenmode:'pixels', len:ax1B-ax1T, thicknessmode:'pixels', thickness:cbW, xpad:0, ypad:0,
    outlinecolor:'#404040', outlinewidth:3, ticks:'inside', ticklen:tickLen, tickwidth:2.5, tickcolor:INK,
    tickfont:{family:FONT,size:tickSize,color:INK}
  },extra);
}
const coiLine = {color:'#fff',width:Math.round(8*Math.max(sy,.85)),dash:'31px,25px'};
const traces = [
  {type:'heatmap',x:years,y:rows,z:coherence,zmin:0,zmax:1,zsmooth:false,colorscale:parulaScale,xaxis:'x',yaxis:'y',
   colorbar:cbar(ax1T,{tickmode:'array',tickvals:[0,.1,.2,.3,.4,.5,.6,.7,.8,.9,1],ticktext:['0','0.1','0.2','0.3','0.4','0.5','0.6','0.7','0.8','0.9','1']})},
  {type:'scatter',mode:'lines',x:coiYear,y:coiRow,xaxis:'x',yaxis:'y',showlegend:false,line:coiLine},
  {type:'heatmap',x:years,y:rows,z:phase,zmin:-Math.PI,zmax:Math.PI,zsmooth:false,colorscale:hsvScale,xaxis:'x2',yaxis:'y2',
   colorbar:cbar(ax2T,{tickmode:'array',tickvals:[-3,-2,-1,0,1,2,3],ticktext:['-3','-2','-1','0','1','2','3']})},
  {type:'scatter',mode:'lines',x:coiYear,y:coiRow,xaxis:'x2',yaxis:'y2',showlegend:false,line:coiLine}
];
function xAx(anchor){
  return {domain:[axL/W,axR/W],anchor,range:[1348.5,1402.5],tickmode:'array',tickvals:years,ticktext:years.map(String),tickangle:-90,
    ticks:'inside',ticklen:tickLen,tickwidth:2.5,tickcolor:INK,mirror:'ticks',showline:true,linecolor:'#404040',linewidth:3,showgrid:false,zeroline:false,
    ticklabelstandoff:-4,tickfont:{family:FONT,size:tickSize,color:INK},
    title:{text:xAxisTitle,font:{family:FONT,size:labelSize,color:INK},standoff:6}};
}
function yAx(anchor,top,bottom){
  return {domain:[1-bottom/H,1-top/H],anchor,range:[49.5,0.5],tickmode:'array',tickvals:yTicks,ticktext:yLabels,
    ticks:'inside',ticklen:tickLen,tickwidth:2.5,tickcolor:INK,mirror:'ticks',showline:true,linecolor:'#404040',linewidth:3,showgrid:false,zeroline:false,
    ticklabelstandoff:10,tickfont:{family:FONT,size:tickSize,color:INK},
    title:{text:yAxisTitle,font:{family:FONT,size:labelSize,color:INK},standoff:125}};
}
const titleFont = {family:FONT,size:titleSize,color:'#000'};
const annotations = [];
const title1Y = [187,267,347,428];
const title2Y = [3232,3312,3391];
title1.forEach((t,i)=>annotations.push({text:'<b>'+t+'</b>',xref:'paper',yref:'paper',x:(axL+axR)/2/W,y:1-title1Y[i]/REF_H,xanchor:'center',yanchor:'middle',showarrow:false,font:titleFont}));
title2.forEach((t,i)=>annotations.push({text:'<b>'+t+'</b>',xref:'paper',yref:'paper',x:(axL+axR)/2/W,y:1-title2Y[i]/REF_H,xanchor:'center',yanchor:'middle',showarrow:false,font:titleFont}));

const layout = {width:W,height:H,margin:{l:0,r:0,t:0,b:0,pad:0},paper_bgcolor:'#fff',plot_bgcolor:'#fff',showlegend:false,
  font:{family:FONT,color:INK},
  xaxis:xAx('y'),yaxis:yAx('x',ax1T,ax1B),
  xaxis2:xAx('y2'),yaxis2:yAx('x2',ax2T,ax2B),
  annotations};
Plotly.newPlot('chart',traces,layout,{displayModeBar:false,staticPlot:true});
</script>
</body>
</html>
